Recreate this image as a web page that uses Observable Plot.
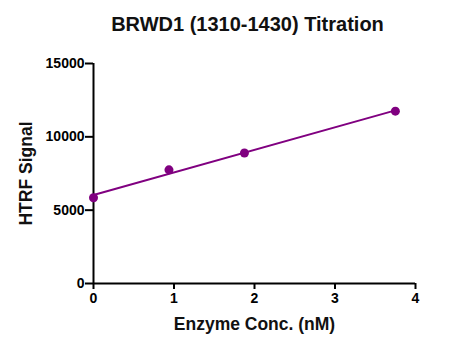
<!DOCTYPE html>
<html>
<head>
<meta charset="utf-8">
<script src="https://cdn.jsdelivr.net/npm/d3@7"></script>
<script src="https://cdn.jsdelivr.net/npm/@observablehq/plot@0.6"></script>
<style>
  html, body { margin: 0; padding: 0; background: #fff; }
  #chart svg text { font-weight: bold; }
</style>
</head>
<body>
<div id="chart"></div>
<script>
const title = "BRWD1 (1310-1430) Titration";
const xLabel = "Enzyme Conc. (nM)";
const yLabel = "HTRF Signal";
const conc = [0, 0.9375, 1.875, 3.75];
const signal = [5850, 7750, 8900, 11750];
const xTicks = [0, 1, 2, 3, 4];
const yTicks = [0, 5000, 10000, 15000];

const data = conc.map((c, i) => ({x: c, y: signal[i]}));
const color = "#800080";

const chart = Plot.plot({
  width: 465,
  height: 351,
  marginTop: 63,
  marginBottom: 68,
  marginLeft: 93,
  marginRight: 50,
  style: {fontFamily: "'Liberation Sans', Arial, sans-serif", fontWeight: "bold", fontSize: "14px", color: "#000", background: "#fff"},
  x: {domain: [0, 4], ticks: xTicks},
  y: {domain: [0, 15000], ticks: yTicks},
  marks: [
    Plot.axisX({ticks: xTicks, tickSize: 6, strokeWidth: 2, tickPadding: 4, label: null, tickFormat: d => String(d), fontSize: 14, fill: "#000"}),
    Plot.axisY({ticks: yTicks, tickSize: 8, strokeWidth: 2, tickPadding: 1, label: null, tickFormat: d => String(d), fontSize: 14, fill: "#000"}),
    Plot.ruleX([0], {stroke: "#000", strokeWidth: 2}),
    Plot.ruleY([0], {stroke: "#000", strokeWidth: 2}),
    Plot.linearRegressionY(data, {x: "x", y: "y", ci: 0, stroke: color, strokeWidth: 2}),
    Plot.dot(data, {x: "x", y: "y", r: 4.5, fill: color, stroke: "none"}),
    Plot.text([title], {frameAnchor: "top", dy: -39, dx: -7, textAnchor: "middle", lineAnchor: "middle", fontSize: 20, fill: "#111"}),
    Plot.text([xLabel], {frameAnchor: "bottom", dy: 41, textAnchor: "middle", lineAnchor: "middle", fontSize: 17.5, fill: "#111"}),
    Plot.text([yLabel], {frameAnchor: "left", dx: -67, rotate: -90, textAnchor: "middle", lineAnchor: "middle", fontSize: 17.5, fill: "#111"})
  ]
});
document.getElementById("chart").appendChild(chart);
</script>
</body>
</html>
